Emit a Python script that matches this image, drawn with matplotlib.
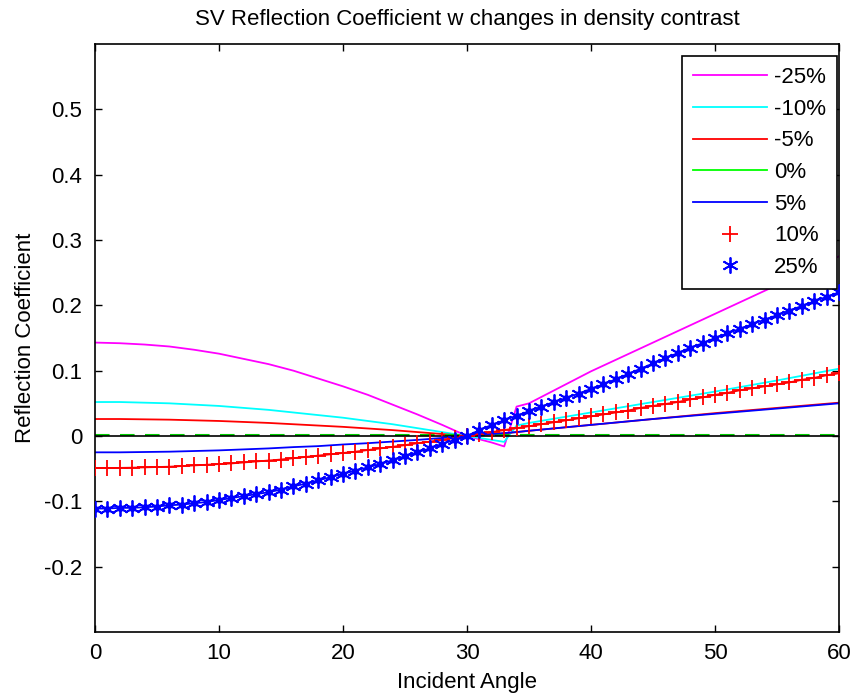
import matplotlib
matplotlib.use("Agg")
import matplotlib.pyplot as plt
from matplotlib import transforms

plt.rcParams['font.family'] = ['Liberation Sans', 'DejaVu Sans']

# ---------------- data ----------------
angles_line = [0, 2, 4, 6, 8, 10, 12, 14, 16, 18, 20, 22, 24, 26, 28, 30,
               31, 32, 33, 34, 35, 40, 45, 50, 55, 60]

r_m25 = [0.143, 0.142, 0.140, 0.137, 0.132, 0.126, 0.118, 0.110, 0.100, 0.088,
         0.076, 0.063, 0.048, 0.033, 0.017, 0.000,
         -0.005, -0.010, -0.016, 0.045, 0.050, 0.099, 0.143, 0.187, 0.231, 0.275]
r_m10 = [0.052, 0.052, 0.051, 0.050, 0.048, 0.046, 0.043, 0.040, 0.036, 0.032,
         0.028, 0.023, 0.018, 0.012, 0.006, 0.000,
         -0.003, -0.006, -0.009, 0.016, 0.020, 0.036, 0.052, 0.068, 0.085, 0.103]
r_m5 = [0.026, 0.026, 0.0255, 0.025, 0.024, 0.023, 0.0215, 0.020, 0.018, 0.016,
        0.014, 0.0115, 0.009, 0.006, 0.003, 0.000,
        0.002, 0.003, 0.004, 0.006, 0.008, 0.017, 0.026, 0.035, 0.043, 0.051]
r_0 = [0.0] * 26
r_p5 = [-0.025, -0.025, -0.0245, -0.024, -0.023, -0.022, -0.0205, -0.019, -0.017, -0.0155,
        -0.013, -0.011, -0.0085, -0.006, -0.003, 0.000,
        0.0015, 0.003, 0.0045, 0.006, 0.008, 0.017, 0.026, 0.034, 0.042, 0.050]

angles_mk = list(range(0, 61))
r_p10 = [-0.049, -0.049, -0.0488, -0.0485, -0.048, -0.0475, -0.047, -0.046, -0.045, -0.044,
         -0.043, -0.042, -0.0405, -0.039, -0.0375, -0.036, -0.034, -0.032, -0.030, -0.028,
         -0.026, -0.024, -0.0215, -0.019, -0.0166, -0.014, -0.011, -0.0086, -0.0058, -0.003,
         0.000, 0.003, 0.006, 0.009, 0.012, 0.015, 0.018, 0.021, 0.024, 0.027,
         0.030, 0.033, 0.036, 0.039, 0.043, 0.046, 0.049, 0.052, 0.056, 0.059,
         0.063, 0.066, 0.070, 0.073, 0.076, 0.079, 0.082, 0.086, 0.089, 0.093, 0.096]
r_p25 = [-0.111, -0.111, -0.110, -0.110, -0.109, -0.108, -0.106, -0.105, -0.103, -0.101,
         -0.098, -0.095, -0.092, -0.089, -0.086, -0.082, -0.077, -0.073, -0.068, -0.063,
         -0.058, -0.053, -0.048, -0.043, -0.037, -0.031, -0.025, -0.019, -0.012, -0.006,
         0.000, 0.009, 0.017, 0.024, 0.031, 0.038, 0.045, 0.052, 0.058, 0.065,
         0.072, 0.079, 0.087, 0.095, 0.103, 0.111, 0.119, 0.127, 0.135, 0.142,
         0.150, 0.157, 0.164, 0.171, 0.178, 0.185, 0.192, 0.199, 0.206, 0.213, 0.220]

labels = ['-25%', '-10%', '-5%', '0%', '5%', '10%', '25%']
x_ticks = [0, 10, 20, 30, 40, 50, 60]
y_ticks = [-0.2, -0.1, 0, 0.1, 0.2, 0.3, 0.4, 0.5]
y_tick_labels = ['-0.2', '-0.1', '0', '0.1', '0.2', '0.3', '0.4', '0.5']

FS = 16

# ---------------- figure ----------------
fig = plt.figure(figsize=(8.5, 6.95), dpi=100)
ax = fig.add_axes([95 / 850, 63 / 695, 744 / 850, 588 / 695])

lw = 1.3
h1, = ax.plot(angles_line, r_m25, color='#FF00FF', lw=lw, label=labels[0])
h2, = ax.plot(angles_line, r_m10, color='#00FFFF', lw=lw, label=labels[1])
h3, = ax.plot(angles_line, r_m5, color='#FF0000', lw=lw, label=labels[2])
green_tr = transforms.offset_copy(ax.transData, fig=fig, x=0, y=1.5, units='dots')
ax.plot(angles_line, r_0, color='#00CC00', lw=1.5, ls=(0, (7, 5)), transform=green_tr)
h4 = plt.Line2D([], [], color='#00FF00', lw=lw)
h5, = ax.plot(angles_line, r_p5, color='#0000FF', lw=lw, label=labels[4])
ax.axhline(0, color='black', lw=1.2, zorder=2.5)
ax.plot(angles_mk, r_p10, color='#FF0000', lw=lw, zorder=3)
h6, = ax.plot(angles_mk, r_p10, ls='none', marker='+', ms=11.5, mew=1.3,
              color='#FF0000', zorder=3)
ax.plot(angles_mk, r_p25, color='#0000FF', lw=lw, zorder=3)
h7, = ax.plot(angles_mk, r_p25, ls='none', marker=(6, 2, 0), ms=11.5, mew=1.3,
              color='#0000FF', zorder=3)
ax.plot(angles_mk, r_p25, ls='none', marker='o', ms=4, color='#0000FF', zorder=3)

ax.set_xlim(0, 60)
ax.set_ylim(-0.3, 0.6)
ax.set_xticks(x_ticks)
ax.set_xticklabels([str(t) for t in x_ticks])
ax.set_yticks(y_ticks)
ax.set_yticklabels(y_tick_labels)
ax.tick_params(direction='in', length=5, width=1, top=True, right=True,
               labelsize=FS, colors='black')
ax.tick_params(axis='x', pad=8)
ax.tick_params(axis='y', pad=9)
for s in ax.spines.values():
    s.set_linewidth(1.2)
    s.set_color('black')

ax.set_title('SV Reflection Coefficient w changes in density contrast',
             fontsize=FS, pad=14)
ax.set_xlabel('Incident Angle', fontsize=FS, labelpad=6)
ax.set_ylabel('Reflection Coefficient', fontsize=FS, labelpad=6)

leg = ax.legend([h1, h2, h3, h4, h5, h6, h7], labels, loc='upper right',
                bbox_to_anchor=(837 / 850, 1 - 56 / 695), bbox_transform=fig.transFigure,
                borderaxespad=0, fontsize=FS, handlelength=3.3, handletextpad=0.32,
                labelspacing=0.48, borderpad=0.5, fancybox=False, framealpha=1,
                edgecolor='black', numpoints=1)
leg.get_frame().set_linewidth(1.2)

fig.savefig('out.png', dpi=100)
